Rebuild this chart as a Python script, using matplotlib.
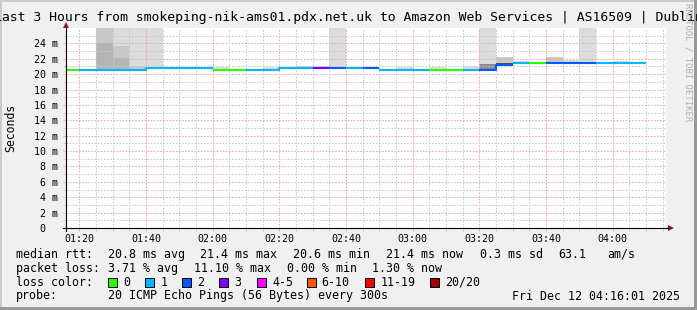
import matplotlib
matplotlib.use("Agg")
import matplotlib.pyplot as plt
from matplotlib.patches import Rectangle, Polygon
from matplotlib.lines import Line2D

# ---------------- data ----------------
title_text = "Last 3 Hours from smokeping-nik-ams01.pdx.net.uk to Amazon Web Services | AS16509 | Dublin"
y_label = "Seconds"
watermark = "RRDTOOL / TOBI OETIKER"

x_start, x_end = "01:16", "04:16"
x_tick_labels = ["01:20", "01:40", "02:00", "02:20", "02:40", "03:00", "03:20", "03:40", "04:00"]
y_tick_values = [0, 2, 4, 6, 8, 10, 12, 14, 16, 18, 20, 22, 24]
y_tick_labels = ["0  ", "2 m", "4 m", "6 m", "8 m", "10 m", "12 m", "14 m", "16 m",
                 "18 m", "20 m", "22 m", "24 m"]

first_slot = "01:15"   # 5-minute steps
step_min = 5

median_ms = [20.6, 20.6, 20.6, 20.6, 20.6, 20.75, 20.75, 20.75, 20.75, 20.6, 20.6, 20.6,
             20.6, 20.75, 20.75, 20.75, 20.75, 20.75, 20.75, 20.6, 20.6, 20.6, 20.6, 20.6,
             20.6, 20.6, 21.2, 21.4, 21.4, 21.4, 21.4, 21.4, 21.4, 21.4, 21.4]
loss_count = [0, 1, 1, 1, 1, 1, 1, 1, 1, 0, 0, 1, 1, 1, 1, 3, 2, 1, 2, 1, 1, 1, 0, 0,
              1, 2, 2, 1, 0, 2, 2, 2, 1, 1, 1]

smoke_slot = [2, 2, 3, 3, 3, 4, 4, 5, 9, 12, 14, 15, 16, 20, 22, 24, 25, 25, 26, 26, 27,
              29, 30, 31, 33]
smoke_lo = [20.6, 24.0, 20.6, 22.05, 23.7, 20.6, 21.1, 20.75, 20.6, 20.6, 20.75, 20.75,
            20.75, 20.6, 20.6, 20.6, 20.6, 21.3, 21.2, 21.45, 21.4, 21.4, 21.4, 21.4, 21.4]
smoke_hi = [24.0, 27.0, 22.05, 23.7, 27.0, 21.1, 27.0, 27.0, 20.95, 20.9, 21.0, 21.0,
            27.0, 20.95, 20.95, 21.1, 21.3, 27.0, 21.45, 22.2, 21.7, 22.2, 21.9, 27.0, 21.75]
smoke_density = [3, 2, 3, 2, 1, 2, 1, 1, 1, 1, 1, 1, 1, 1, 1, 1, 4, 1, 5, 2, 1, 2, 1, 1, 1]

loss_labels = ["0", "1", "2", "3", "4-5", "6-10", "11-19", "20/20"]
loss_colors = ["#26ff00", "#00b8ff", "#0059ff", "#7e00ff", "#ff00ff", "#ff5500",
               "#ff0000", "#a10000"]

rtt_stats = ["median rtt:", "20.8 ms avg", "21.4 ms max", "20.6 ms min", "21.4 ms now",
             "0.3 ms sd", "63.1", "am/s"]
loss_stats = ["packet loss:", "3.71 % avg", "11.10 % max", "0.00 % min", "1.30 % now"]
probe_text = ["probe:", "20 ICMP Echo Pings (56 Bytes) every 300s"]
date_text = "Fri Dec 12 04:16:01 2025"

# ---------------- helpers ----------------
W, H, DPI = 697, 310, 100
MONO = "DejaVu Sans Mono"


def hm(s):
    h, m = s.split(":")
    return int(h) * 60 + int(m)


def fx(x):
    return x / W


def fy(y):
    return 1 - y / H


shade = {1: "#dcdcdc", 2: "#c8c8c8", 3: "#b4b4b4", 4: "#8a8a8a", 5: "#505050"}

fig = plt.figure(figsize=(W / DPI, H / DPI), dpi=DPI, facecolor="#f0f0f0")

# 3D frame
fig.add_artist(Rectangle((0, 0), fx(2), 1, transform=fig.transFigure, color="#cbcbcb", lw=0))
fig.add_artist(Rectangle((0, fy(2)), 1, 2 / H, transform=fig.transFigure, color="#cbcbcb", lw=0))
fig.add_artist(Rectangle((fx(694), 0), 3 / W, 1, transform=fig.transFigure, color="#999999", lw=0))
fig.add_artist(Rectangle((0, 0), 1, 3 / H, transform=fig.transFigure, color="#999999", lw=0))

ax = fig.add_axes([fx(66), fy(228), 600 / W, 200 / H])
ax.set_facecolor("white")
ax.set_xlim(hm(x_start), hm(x_end))
ax.set_ylim(0, 26)
for sp in ax.spines.values():
    sp.set_visible(False)

# smoke
t0 = hm(first_slot)
for s, lo, hi, d in zip(smoke_slot, smoke_lo, smoke_hi, smoke_density):
    ax.bar(t0 + s * step_min, hi - lo, bottom=lo, width=step_min, align="edge",
           color=shade[d], lw=0, zorder=1)

# grid & ticks
major_x = [hm(t) for t in x_tick_labels]
minor_x = list(range(hm("01:20"), hm(x_end), 5))
ax.set_xticks(major_x)
ax.set_xticks(minor_x, minor=True)
ax.set_xticklabels(x_tick_labels, fontfamily=MONO, fontsize=7.2)
ax.set_yticks(y_tick_values)
ax.set_yticks(list(range(1, 26, 2)), minor=True)
ax.set_yticklabels(y_tick_labels, fontfamily=MONO, fontsize=7.2)
ax.grid(which="major", color="#f2a4a4", linestyle=(0, (1.5, 1.5)), linewidth=0.75)
ax.grid(which="minor", color="#c8c8c8", linestyle=(0, (1.5, 1.5)), linewidth=0.75)
ax.tick_params(which="major", direction="out", length=2, width=0.75, color="#f2a4a4", pad=2)
ax.tick_params(which="minor", direction="out", length=2, width=0.75, color="#c8c8c8")
ax.tick_params(axis="y", which="major", pad=3.5)

# median line coloured by loss
n = len(median_ms)
edges = [t0 + i * step_min for i in range(n + 1)]
i = 0
while i < n:
    j = i
    while j + 1 < n and loss_count[j + 1] == loss_count[i]:
        j += 1
    xs = edges[i:j + 2]
    ys = median_ms[i:j + 1] + [median_ms[j]]
    lc = loss_count[i]
    ax.step(xs, ys, where="post", color=loss_colors[lc], lw=1.5, zorder=3,
            solid_capstyle="butt")
    i = j + 1

# axes lines with arrows
fig.add_artist(Line2D([fx(63), fx(668)], [fy(228), fy(228)], transform=fig.transFigure,
                      color="black", lw=0.8))
fig.add_artist(Line2D([fx(66), fx(66)], [fy(231), fy(28)], transform=fig.transFigure,
                      color="black", lw=0.8))
arrow_c = "#8b1a1a"
fig.add_artist(Polygon([(fx(668), fy(225)), (fx(674), fy(228)), (fx(668), fy(231))],
                       closed=True, transform=fig.transFigure, color=arrow_c, lw=0))
fig.add_artist(Polygon([(fx(63), fy(28)), (fx(66), fy(22)), (fx(69), fy(28))],
                       closed=True, transform=fig.transFigure, color=arrow_c, lw=0))

# title, axis label, watermark
fig.text(fx(-5.7), fy(18), title_text, fontfamily=MONO, fontsize=9.47, ha="left", va="center",
         color="black")
fig.text(fx(11), fy(128), y_label, fontfamily=MONO, fontsize=8.3, rotation=90,
         ha="center", va="center", color="black")
fig.text(fx(688), fy(3), watermark, fontfamily=MONO, fontsize=6.4, rotation=-90,
         ha="center", va="top", color="#b0b0b0")

# legend
rtt_x = [16, 107.6, 200, 293, 386, 480, 558, 607]
for s, x in zip(rtt_stats, rtt_x):
    fig.text(fx(x), fy(254.3), s, fontfamily=MONO, fontsize=8.37, va="center", ha="left")
loss_x = [16, 107.6, 194, 286.7, 372.4]
for s, x in zip(loss_stats, loss_x):
    fig.text(fx(x), fy(268.3), s, fontfamily=MONO, fontsize=8.37, va="center", ha="left")
fig.text(fx(16), fy(282), "loss color:", fontfamily=MONO, fontsize=8.37, va="center", ha="left")
box_x = [108, 145.3, 182.2, 219, 257, 306.7, 365.3, 429.8]
for lab, col, x in zip(loss_labels, loss_colors, box_x):
    fig.add_artist(Rectangle((fx(x), fy(286.5)), 9 / W, 9 / H, transform=fig.transFigure,
                             facecolor=col, edgecolor="black", lw=0.7))
    fig.text(fx(x + 15), fy(282), lab, fontfamily=MONO, fontsize=8.37, va="center", ha="left")
fig.text(fx(16), fy(296), probe_text[0], fontfamily=MONO, fontsize=8.37, va="center", ha="left")
fig.text(fx(107.6), fy(296), probe_text[1], fontfamily=MONO, fontsize=8.37, va="center", ha="left")
fig.text(fx(680), fy(296), date_text, fontfamily=MONO, fontsize=8.37, va="center", ha="right")

fig.savefig("out.png", dpi=DPI, facecolor=fig.get_facecolor())
